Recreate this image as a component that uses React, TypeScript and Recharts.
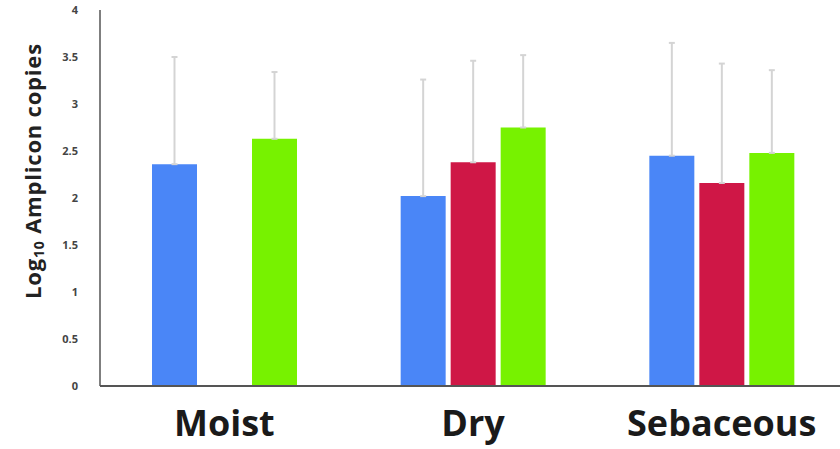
import React from "react";
import { BarChart, Bar, XAxis, YAxis, ErrorBar, Label } from "recharts";

// Skin site groups and the three series means (log10 copies) with upper SD
const sites = ["Moist", "Dry", "Sebaceous"];
const blueMeans = [2.36, 2.02, 2.45];
const redMeans: (number | null)[] = [null, 2.38, 2.16];
const greenMeans = [2.63, 2.75, 2.48];
const blueSd = [1.14, 1.24, 1.2];
const redSd: (number | null)[] = [null, 1.08, 1.27];
const greenSd = [0.71, 0.77, 0.88];
const yTicks = [0, 0.5, 1, 1.5, 2, 2.5, 3, 3.5, 4];

const data = sites.map((site, i) => ({
  site,
  blue: blueMeans[i],
  red: redMeans[i],
  green: greenMeans[i],
  blueErr: [0, blueSd[i]],
  redErr: redSd[i] == null ? undefined : [0, redSd[i]],
  greenErr: [0, greenSd[i]],
}));

const FONT = "'Open Sans', sans-serif";
const ERR = "#d4d4d4";

function renderYLabel() {
  return (
    <text
      x={32}
      y={171}
      transform="rotate(-90 32 171)"
      textAnchor="middle"
      dominantBaseline="central"
      fontFamily={FONT}
      fontWeight={700}
      fontSize={22}
      letterSpacing={0.8}
      fill="#222"
    >
      Log
      <tspan fontSize={14} dy={6}>10</tspan>
      <tspan dy={-6}> Amplicon copies</tspan>
    </text>
  );
}

export default function App() {
  return (
    <div style={{ position: "absolute", left: 0, top: 0, width: 840, height: 449, overflow: "hidden", background: "#fff" }}>
      <BarChart
        width={846}
        height={449}
        data={data}
        margin={{ top: 10, right: 0, left: 0, bottom: 0 }}
        barSize={45}
        barGap={5}
      >
        <XAxis
          dataKey="site"
          height={63}
          tickLine={false}
          tickMargin={18}
          axisLine={{ stroke: "#555", strokeWidth: 2 }}
          tick={{ fontFamily: FONT, fontWeight: 700, fontSize: 36, fill: "#1a1a1a" }}
        />
        <YAxis
          width={100}
          domain={[0, 4]}
          ticks={yTicks}
          interval={0}
          tickLine={false}
          tickMargin={16}
          axisLine={{ stroke: "#555", strokeWidth: 1.5 }}
          tick={{ fontFamily: FONT, fontWeight: 700, fontSize: 11, fill: "#444" }}
        >
          <Label content={renderYLabel} />
        </YAxis>
        <Bar dataKey="blue" fill="#4a86f7" isAnimationActive={false}>
          <ErrorBar dataKey="blueErr" direction="y" width={3} stroke={ERR} strokeWidth={2} />
        </Bar>
        <Bar dataKey="red" fill="#cf1746" isAnimationActive={false}>
          <ErrorBar dataKey="redErr" direction="y" width={3} stroke={ERR} strokeWidth={2} />
        </Bar>
        <Bar dataKey="green" fill="#77f200" isAnimationActive={false}>
          <ErrorBar dataKey="greenErr" direction="y" width={3} stroke={ERR} strokeWidth={2} />
        </Bar>
      </BarChart>
    </div>
  );
}
